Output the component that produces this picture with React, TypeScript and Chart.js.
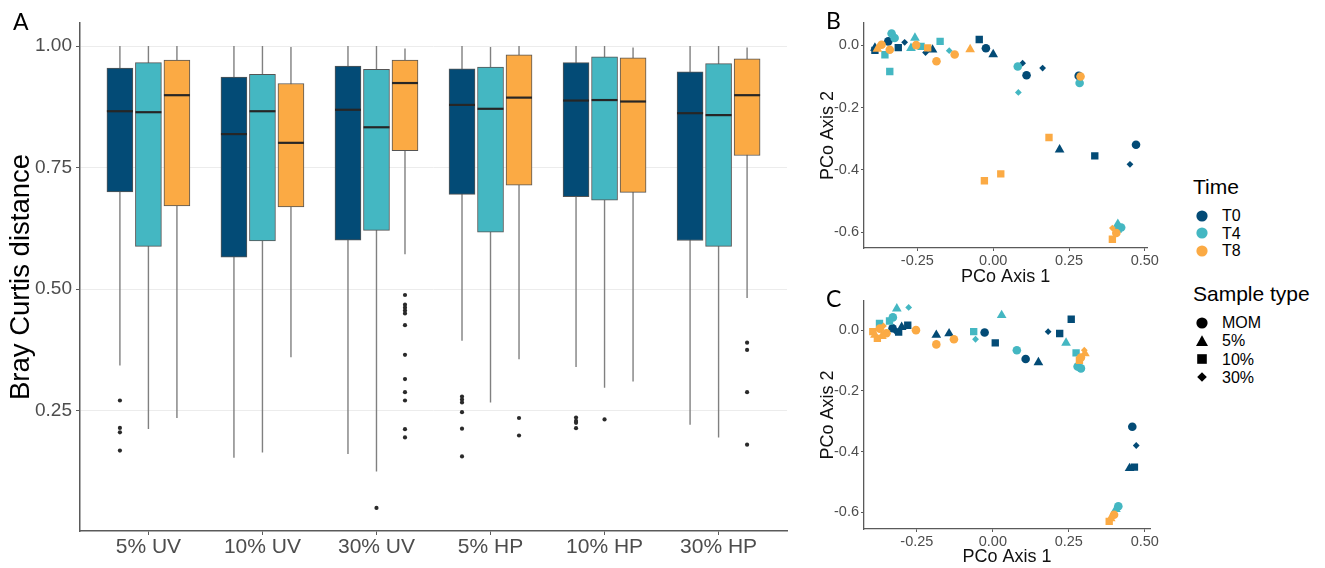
import React, { useEffect, useRef } from "react";
import { Chart, registerables } from "chart.js";

Chart.register(...registerables);
Chart.defaults.font.family = "'Liberation Sans', Arial, sans-serif";

// ---------------- Panel A data ----------------
const CATEGORIES = ["5% UV", "10% UV", "30% UV", "5% HP", "10% HP", "30% HP"];
const TIMES = ["T0", "T4", "T8"];
const TIME_COLORS = ["#034B76", "#44B7C2", "#FBAA44"];
const A_Y_TICKS = [0.25, 0.5, 0.75, 1.0];

const T0_Q1 = [0.700, 0.566, 0.601, 0.695, 0.690, 0.600];
const T0_MED = [0.866, 0.819, 0.869, 0.879, 0.888, 0.862];
const T0_Q3 = [0.955, 0.936, 0.959, 0.953, 0.966, 0.947];
const T0_LO = [0.343, 0.153, 0.161, 0.394, 0.340, 0.221];
const T0_HI = [1.0, 1.0, 1.0, 1.0, 1.0, 1.0];
const T0_OUT = [
  [0.271, 0.2145, 0.2055, 0.168],
  [],
  [],
  [0.279, 0.273, 0.267, 0.247, 0.213, 0.156],
  [0.236, 0.229, 0.225, 0.214],
  [],
];

const T4_Q1 = [0.588, 0.599, 0.621, 0.617, 0.683, 0.588];
const T4_MED = [0.864, 0.866, 0.833, 0.871, 0.889, 0.858];
const T4_Q3 = [0.966, 0.942, 0.952, 0.957, 0.978, 0.964];
const T4_LO = [0.2125, 0.164, 0.125, 0.267, 0.297, 0.195];
const T4_HI = [1.0, 1.0, 1.0, 0.998, 1.0, 1.0];
const T4_OUT = [[], [], [0.05], [], [0.232], []];

const T8_Q1 = [0.671, 0.669, 0.785, 0.714, 0.699, 0.775];
const T8_MED = [0.899, 0.801, 0.924, 0.894, 0.886, 0.899];
const T8_Q3 = [0.971, 0.923, 0.971, 0.982, 0.976, 0.974];
const T8_LO = [0.235, 0.36, 0.572, 0.356, 0.31, 0.482];
const T8_HI = [1.0, 0.998, 0.995, 1.0, 0.997, 0.997];
const T8_OUT = [
  [],
  [],
  [0.488, 0.468, 0.462, 0.456, 0.45, 0.426, 0.365, 0.315, 0.288, 0.271, 0.212, 0.195],
  [0.235, 0.199],
  [],
  [0.39, 0.375, 0.288, 0.18],
];

const DODGE = [-0.25, 0, 0.25];

// ---------------- Panels B / C data: [PCo1, PCo2, sample type] ----------------
type Pt = [number, number, string];

const B_T0: Pt[] = [
  [-0.39, -0.016, "10%"], [-0.39, -0.008, "5%"], [-0.346, 0.013, "MOM"], [-0.313, -0.007, "10%"],
  [-0.292, 0.01, "30%"], [-0.223, -0.023, "30%"], [-0.2, -0.014, "5%"], [-0.046, 0.019, "10%"],
  [-0.024, -0.009, "MOM"], [0.0, -0.029, "5%"], [0.097, -0.057, "30%"], [0.11, -0.096, "MOM"],
  [0.163, -0.073, "30%"], [0.282, -0.098, "MOM"], [0.219, -0.335, "5%"], [0.335, -0.355, "10%"],
  [0.471, -0.319, "MOM"], [0.451, -0.382, "30%"],
];
const B_T4: Pt[] = [
  [-0.357, -0.03, "10%"], [-0.335, 0.038, "MOM"], [-0.325, 0.024, "MOM"], [-0.341, -0.084, "10%"],
  [-0.258, 0.024, "5%"], [-0.271, -0.009, "5%"], [-0.238, -0.003, "10%"], [-0.175, 0.013, "10%"],
  [-0.145, -0.017, "30%"], [0.081, -0.068, "MOM"], [0.083, -0.151, "30%"], [0.285, -0.121, "MOM"],
  [0.411, -0.574, "5%"], [0.422, -0.585, "MOM"], [0.412, -0.59, "10%"],
];
const B_T8: Pt[] = [
  [-0.382, -0.011, "5%"], [-0.368, 0.002, "MOM"], [-0.341, -0.014, "MOM"], [-0.254, 0.001, "MOM"],
  [-0.216, -0.008, "10%"], [-0.187, -0.051, "MOM"], [-0.127, -0.029, "MOM"], [-0.076, -0.013, "5%"],
  [0.288, -0.1, "MOM"], [0.184, -0.296, "10%"], [-0.029, -0.435, "10%"], [0.025, -0.413, "10%"],
  [0.393, -0.587, "30%"], [0.406, -0.603, "MOM"], [0.393, -0.623, "10%"],
];

const C_T0: Pt[] = [
  [-0.33, 0.006, "MOM"], [-0.322, -0.002, "30%"], [-0.31, -0.006, "10%"], [-0.28, 0.016, "10%"],
  [-0.3, 0.01, "5%"], [-0.186, -0.016, "5%"], [-0.144, -0.011, "5%"], [-0.027, -0.008, "MOM"],
  [0.008, -0.042, "10%"], [0.108, -0.095, "MOM"], [0.15, -0.106, "5%"], [0.182, -0.005, "30%"],
  [0.22, -0.011, "10%"], [0.258, 0.036, "10%"], [0.459, -0.318, "MOM"], [0.472, -0.38, "30%"],
  [0.466, -0.451, "10%"], [0.45, -0.455, "5%"],
];
const C_T4: Pt[] = [
  [-0.373, 0.022, "10%"], [-0.329, 0.042, "MOM"], [-0.316, 0.071, "5%"], [-0.277, 0.075, "30%"],
  [-0.34, 0.03, "10%"], [-0.063, -0.005, "10%"], [-0.057, -0.03, "30%"], [0.029, 0.049, "5%"],
  [0.079, -0.066, "MOM"], [0.241, -0.042, "5%"], [0.274, -0.075, "10%"], [0.279, -0.12, "MOM"],
  [0.29, -0.126, "MOM"], [0.413, -0.58, "MOM"], [0.405, -0.59, "5%"],
];
const C_T8: Pt[] = [
  [-0.395, -0.005, "10%"], [-0.388, -0.016, "5%"], [-0.38, -0.027, "10%"], [-0.372, 0.005, "MOM"],
  [-0.36, 0.014, "30%"], [-0.35, -0.01, "MOM"], [-0.365, -0.02, "5%"], [-0.253, 0.0, "MOM"],
  [-0.186, -0.047, "MOM"], [-0.128, -0.03, "MOM"], [0.303, -0.077, "5%"], [0.301, -0.066, "30%"],
  [0.285, -0.099, "10%"], [0.29, -0.09, "MOM"], [0.399, -0.608, "MOM"], [0.383, -0.63, "10%"],
  [0.388, -0.62, "5%"],
];

const PCO_X_TICKS = [-0.25, 0, 0.25, 0.5];
const PCO_Y_TICKS = [-0.6, -0.4, -0.2, 0.0];
const SAMPLE_TYPES = ["MOM", "5%", "10%", "30%"];

const STYLE: Record<string, any> = { MOM: "circle", "5%": "triangle", "10%": "rect", "30%": "rectRot" };
const RADIUS: Record<string, number> = { MOM: 4.3, "5%": 5.6, "10%": 5.2, "30%": 3.4 };

const AXIS_COL = "#5a5a5a";
const TICK_COL = "#4d4d4d";

const BOX_SERIES = [
  { q1: T0_Q1, med: T0_MED, q3: T0_Q3, lo: T0_LO, hi: T0_HI, out: T0_OUT },
  { q1: T4_Q1, med: T4_MED, q3: T4_Q3, lo: T4_LO, hi: T4_HI, out: T4_OUT },
  { q1: T8_Q1, med: T8_MED, q3: T8_Q3, lo: T8_LO, hi: T8_HI, out: T8_OUT },
];

const medianPlugin = {
  id: "medians",
  afterDatasetsDraw(chart: any) {
    const ctx = chart.ctx;
    const yS = chart.scales.y;
    BOX_SERIES.forEach((b, t) => {
      const meta = chart.getDatasetMeta(t);
      meta.data.forEach((bar: any, i: number) => {
        const { x, width } = bar.getProps(["x", "width"], true);
        const y = yS.getPixelForValue(b.med[i]);
        ctx.save();
        ctx.strokeStyle = "#262626";
        ctx.lineWidth = 2.2;
        ctx.beginPath();
        ctx.moveTo(x - width / 2, y);
        ctx.lineTo(x + width / 2, y);
        ctx.stroke();
        ctx.restore();
      });
    });
  },
};

function BoxPanel() {
  const ref = useRef<HTMLCanvasElement>(null);
  useEffect(() => {
    if (!ref.current) return;
    const whiskers: any[] = [];
    const outliers: any[] = [];
    BOX_SERIES.forEach((b, t) => {
      CATEGORIES.forEach((_, i) => {
        const x = i + 1 + DODGE[t];
        whiskers.push({ x, y: b.lo[i] }, { x, y: b.hi[i] }, { x, y: null });
        b.out[i].forEach((v) => outliers.push({ x, y: v }));
      });
    });
    const datasets: any[] = BOX_SERIES.map((b, t) => ({
      type: "bar",
      label: TIMES[t],
      data: CATEGORIES.map((_, i) => ({ x: i + 1 + DODGE[t], y: [b.q1[i], b.q3[i]] })),
      backgroundColor: TIME_COLORS[t],
      borderColor: "#555555",
      borderWidth: 1,
      borderSkipped: false,
      barThickness: 26,
      grouped: false,
      order: 2,
    }));
    datasets.push({
      type: "line",
      label: "whiskers",
      data: whiskers,
      borderColor: "#808080",
      borderWidth: 1.4,
      pointRadius: 0,
      spanGaps: false,
      fill: false,
      order: 3,
    });
    datasets.push({
      type: "scatter",
      label: "outliers",
      data: outliers,
      pointRadius: 2.1,
      backgroundColor: "#2a2a2a",
      borderWidth: 0,
      order: 1,
    });
    const chart = new Chart(ref.current, {
      type: "bar",
      data: { datasets },
      plugins: [medianPlugin],
      options: {
        animation: false,
        responsive: false,
        layout: { padding: { top: 23, right: 13, left: 0, bottom: 0 } },
        plugins: { legend: { display: false }, tooltip: { enabled: false } },
        scales: {
          x: {
            type: "linear",
            min: 0.4,
            max: 6.6,
            offset: false,
            afterBuildTicks: (s: any) => {
              s.ticks = CATEGORIES.map((_, i) => ({ value: i + 1 }));
            },
            afterFit: (s: any) => {
              s.height = 37;
            },
            ticks: {
              callback: (_v: any, idx: number) => CATEGORIES[idx],
              font: { size: 21 },
              color: TICK_COL,
              padding: 0,
              maxRotation: 0,
              autoSkip: false,
            },
            grid: { offset: false, drawOnChartArea: false, drawTicks: true, tickLength: 4, tickColor: AXIS_COL },
            border: { display: true, color: AXIS_COL, width: 1.5 },
          },
          y: {
            type: "linear",
            min: 0.0025,
            max: 1.0475,
            afterBuildTicks: (s: any) => {
              s.ticks = A_Y_TICKS.map((v) => ({ value: v }));
            },
            afterFit: (s: any) => {
              s.width = 80;
            },
            ticks: {
              callback: (v: any) => Number(v).toFixed(2),
              font: { size: 19 },
              color: TICK_COL,
              padding: 4,
            },
            grid: { color: "#ececec", lineWidth: 1, drawTicks: true, tickLength: 4, tickColor: AXIS_COL },
            border: { display: true, color: AXIS_COL, width: 1.5 },
            title: {
              display: true,
              text: "Bray Curtis distance",
              font: { size: 27.5 },
              color: "#000",
              padding: { top: 5, bottom: 0 },
            },
          },
        },
      } as any,
    });
    return () => chart.destroy();
  }, []);
  return <canvas ref={ref} width={800} height={568} style={{ position: "absolute", left: 0, top: 0 }} />;
}

type PcoProps = {
  groups: Pt[][];
  xMin: number;
  xMax: number;
  yMin: number;
  yMax: number;
  top: number;
  width: number;
  height: number;
  padTop: number;
  padRight: number;
  xAxisH: number;
  titlePadBottom: number;
};

function PcoPanel(p: PcoProps) {
  const ref = useRef<HTMLCanvasElement>(null);
  useEffect(() => {
    if (!ref.current) return;
    const datasets = p.groups.map((g, t) => ({
      label: TIMES[t],
      data: g.map(([x, y, type]) => ({ x, y, type })),
      backgroundColor: TIME_COLORS[t],
      borderColor: TIME_COLORS[t],
      borderWidth: 0,
      pointStyle: (c: any) => STYLE[c.raw?.type] ?? "circle",
      pointRadius: (c: any) => RADIUS[c.raw?.type] ?? 4,
      order: 3 - t,
    }));
    const chart = new Chart(ref.current, {
      type: "scatter",
      data: { datasets },
      options: {
        animation: false,
        responsive: false,
        layout: { padding: { top: p.padTop, right: p.padRight, left: 0, bottom: 0 } },
        plugins: { legend: { display: false }, tooltip: { enabled: false } },
        scales: {
          x: {
            type: "linear",
            min: p.xMin,
            max: p.xMax,
            afterBuildTicks: (s: any) => {
              s.ticks = PCO_X_TICKS.map((v) => ({ value: v }));
            },
            afterFit: (s: any) => {
              s.height = p.xAxisH;
            },
            ticks: {
              callback: (v: any) => Number(v).toFixed(2),
              font: { size: 14.5 },
              color: TICK_COL,
              padding: 1,
              maxRotation: 0,
              autoSkip: false,
            },
            grid: { drawOnChartArea: false, drawTicks: true, tickLength: 3, tickColor: AXIS_COL },
            border: { display: true, color: AXIS_COL, width: 1.3 },
            title: {
              display: true,
              text: "PCo Axis 1",
              font: { size: 18 },
              color: "#111",
              padding: { top: 0, bottom: p.titlePadBottom },
            },
          },
          y: {
            type: "linear",
            min: p.yMin,
            max: p.yMax,
            afterBuildTicks: (s: any) => {
              s.ticks = PCO_Y_TICKS.map((v) => ({ value: v }));
            },
            afterFit: (s: any) => {
              s.width = 54;
            },
            ticks: {
              callback: (v: any) => (Math.abs(v) < 1e-9 ? "0.0" : Number(v).toFixed(1)),
              font: { size: 14.5 },
              color: TICK_COL,
              padding: 2,
            },
            grid: { drawOnChartArea: false, drawTicks: true, tickLength: 3, tickColor: AXIS_COL },
            border: { display: true, color: AXIS_COL, width: 1.3 },
            title: {
              display: true,
              text: "PCo Axis 2",
              font: { size: 18 },
              color: "#111",
              padding: { top: 7, bottom: 0 },
            },
          },
        },
      } as any,
    });
    return () => chart.destroy();
  }, []);
  return (
    <canvas
      ref={ref}
      width={p.width}
      height={p.height}
      style={{ position: "absolute", left: 810, top: p.top }}
    />
  );
}

const letterStyle: React.CSSProperties = {
  position: "absolute",
  fontFamily: "Lato, 'Open Sans', sans-serif",
  fontSize: 23,
  lineHeight: "23px",
  color: "#000",
};

function Marker({ shape, color }: { shape: string; color: string }) {
  let el: any = null;
  if (shape === "circle") el = <circle cx={6} cy={6} r={5.6} fill={color} />;
  else if (shape === "triangle") el = <polygon points="6,0.2 12,11 0,11" fill={color} />;
  else if (shape === "rect") el = <rect x={1.2} y={1.2} width={9.6} height={9.6} fill={color} />;
  else el = <polygon points="6,1.2 10.8,6 6,10.8 1.2,6" fill={color} />;
  return (
    <svg width={12} height={12} style={{ position: "absolute", left: 0, top: 0 }}>
      {el}
    </svg>
  );
}

const legendText: React.CSSProperties = {
  position: "absolute",
  fontFamily: "'Liberation Sans', Arial, sans-serif",
  lineHeight: 1,
  color: "#000",
  whiteSpace: "nowrap",
};

function Legend() {
  const timeY = [215.8, 233.3, 250.7];
  const typeY = [322.7, 340.7, 359.3, 377.3];
  return (
    <>
      <div style={{ ...legendText, left: 1193, top: 176.3, fontSize: 21 }}>Time</div>
      {TIMES.map((t, i) => (
        <React.Fragment key={t}>
          <div style={{ position: "absolute", left: 1196, top: timeY[i] - 6, width: 12, height: 12 }}>
            <Marker shape="circle" color={TIME_COLORS[i]} />
          </div>
          <div style={{ ...legendText, left: 1222, top: timeY[i] - 7.8, fontSize: 16 }}>{t}</div>
        </React.Fragment>
      ))}
      <div style={{ ...legendText, left: 1193, top: 283, fontSize: 21 }}>Sample type</div>
      {SAMPLE_TYPES.map((t, i) => (
        <React.Fragment key={t}>
          <div style={{ position: "absolute", left: 1196, top: typeY[i] - 6, width: 12, height: 12 }}>
            <Marker shape={STYLE[t]} color="#000" />
          </div>
          <div style={{ ...legendText, left: 1222, top: typeY[i] - 7.8, fontSize: 16 }}>{t}</div>
        </React.Fragment>
      ))}
    </>
  );
}

export default function App() {
  return (
    <div
      style={{
        position: "fixed",
        left: 0,
        top: 0,
        width: 1325,
        height: 568,
        background: "#fff",
        overflow: "hidden",
      }}
    >
      <BoxPanel />
      <PcoPanel
        groups={[B_T0, B_T4, B_T8]}
        xMin={-0.426}
        xMax={0.508}
        yMin={-0.651}
        yMax={0.072}
        top={0}
        width={350}
        height={290}
        padTop={23}
        padRight={8}
        xAxisH={42}
        titlePadBottom={2.5}
      />
      <PcoPanel
        groups={[C_T0, C_T4, C_T8]}
        xMin={-0.424}
        xMax={0.518}
        yMin={-0.655}
        yMax={0.096}
        top={285}
        width={350}
        height={283}
        padTop={16}
        padRight={7}
        xAxisH={39}
        titlePadBottom={0.5}
      />
      <div style={{ ...letterStyle, left: 13, top: 10 }}>A</div>
      <div style={{ ...letterStyle, left: 826, top: 8.5 }}>B</div>
      <div style={{ ...letterStyle, left: 826, top: 287 }}>C</div>
      <Legend />
    </div>
  );
}
